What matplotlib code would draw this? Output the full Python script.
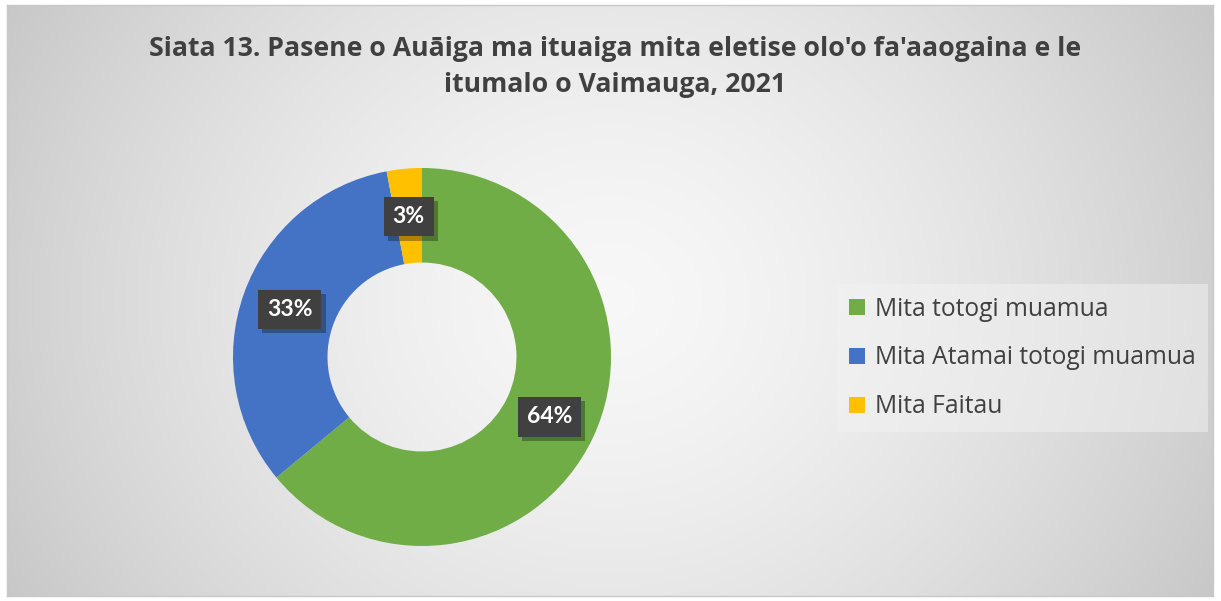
import numpy as np
import matplotlib.pyplot as plt
import matplotlib.patheffects as pe
from matplotlib.patches import Patch

labels = ['Mita totogi muamua', 'Mita Atamai totogi muamua', 'Mita Faitau']
values = [64, 33, 3]
colors = ['#70ad47', '#4472c4', '#ffc000']
title = "Siata 13. Pasene o Auāiga ma ituaiga mita eletise olo'o fa'aaogaina e le\nitumalo o Vaimauga, 2021"

W, H = 1221, 601
fig = plt.figure(figsize=(W / 100, H / 100), dpi=100)

# radial gradient background
bg = fig.add_axes([7 / W, 5 / H, 1206 / W, 591 / H])
yy, xx = np.mgrid[-1:1:300j, -1:1:600j]
r = np.sqrt(xx ** 2 + (yy * 0.55) ** 2)
g = 0.97 - 0.19 * np.clip(r / 1.15, 0, 1) ** 1.5
bg.imshow(np.dstack([g, g, g]), aspect='auto', extent=[0, 1, 0, 1])
bg.set_xticks([])
bg.set_yticks([])
for s in bg.spines.values():
    s.set_color('#c8c8c8')
    s.set_linewidth(1)

fig.text(615 / W, 1 - 67 / H, title, ha='center', va='center', fontsize=19.2,
         fontweight='bold', color='#404040', family='Open Sans', linespacing=1.45)

cx, cy, R = 422, 357, 189
ax = fig.add_axes([(cx - R) / W, (H - cy - R) / H, 2 * R / W, 2 * R / H])
ax.set_facecolor('none')
wedges, _ = ax.pie(values, colors=colors, startangle=90, counterclock=False,
                   radius=1, wedgeprops=dict(width=0.5, edgecolor='none'))
ax.set_xlim(-1, 1)
ax.set_ylim(-1, 1)
ax.axis('off')

for w, v in zip(wedges, values):
    ang = np.deg2rad((w.theta1 + w.theta2) / 2)
    t = ax.text(0.745 * np.cos(ang), 0.745 * np.sin(ang), f'{v}%', ha='center', va='center',
                fontsize=16.5, fontweight='bold', color='white', family='Lato',
                bbox=dict(boxstyle='square,pad=0.4', fc='#404040', ec='none'))
    t.get_bbox_patch().set_path_effects([pe.SimplePatchShadow(offset=(3, -3), alpha=0.35), pe.Normal()])

handles = [Patch(facecolor=c, edgecolor='none') for c in colors]
leg = fig.legend(handles, labels, loc='center left', bbox_to_anchor=(837 / W, 1 - 358 / H),
                 frameon=True, fancybox=False, handlelength=0.65, handleheight=0.65,
                 handletextpad=0.4, labelspacing=0.97, borderpad=0.5, borderaxespad=0,
                 labelcolor='#404040', prop=dict(family='Open Sans', size=17.7))
leg.get_frame().set_facecolor('#f2f2f2')
leg.get_frame().set_alpha(0.5)
leg.get_frame().set_edgecolor('none')

fig.savefig('out.png', dpi=100)
